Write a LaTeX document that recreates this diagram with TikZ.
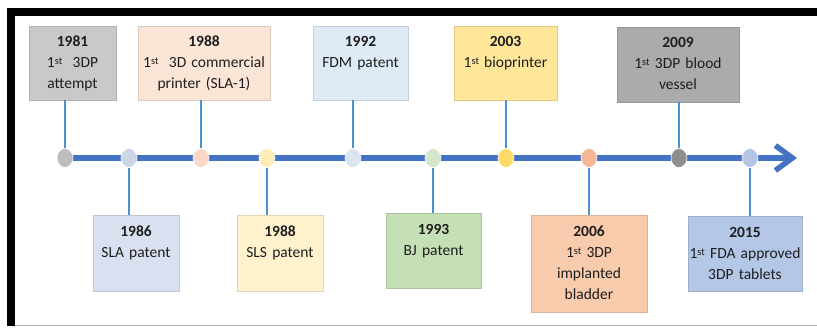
\documentclass[tikz,border=0pt]{standalone}
\usepackage{fontspec}
\setmainfont{Carlito}
\usetikzlibrary{arrows.meta,shapes.geometric}

\definecolor{axisblue}{HTML}{4472C4}
\definecolor{stemblue}{HTML}{4A90CF}
\definecolor{txt}{HTML}{1E1E1E}
\definecolor{cGrayL}{HTML}{C9C9C9}
\definecolor{cGrayD}{HTML}{ABABAB}
\definecolor{cPeach}{HTML}{FBE5D6}
\definecolor{cSky}{HTML}{DEEBF7}
\definecolor{cGold}{HTML}{FFE699}
\definecolor{cSteel}{HTML}{D9E1F1}
\definecolor{cCream}{HTML}{FFF2CC}
\definecolor{cGreen}{HTML}{C5E0B4}
\definecolor{cOrange}{HTML}{F8CBAD}
\definecolor{cBlue}{HTML}{B4C7E7}
% dot colours
\definecolor{dGray}{HTML}{BDBDBD}
\definecolor{dSteel}{HTML}{CDD6E6}
\definecolor{dPeach}{HTML}{F9D8C6}
\definecolor{dCream}{HTML}{FFEDB8}
\definecolor{dSky}{HTML}{DAE4F2}
\definecolor{dGreen}{HTML}{D3E6CC}
\definecolor{dGold}{HTML}{FFD966}
\definecolor{dOrange}{HTML}{F4B896}
\definecolor{dGrayD}{HTML}{8E8E8E}
\definecolor{dBlue}{HTML}{B4C4E4}

% ordinal suffix, set small and raised to cap height
\newcommand{\ordst}{\raisebox{0.42ex}{\fontsize{10.5}{10.5}\selectfont st}}

\begin{document}
\begin{tikzpicture}[x=1pt,y=-1pt,
  eventbox/.style={rectangle, fill=#1, draw=#1!88!black, line width=0.5pt, inner sep=0pt},
  eventtext/.style={anchor=base, align=center, text width=130pt, inner sep=0pt,
    text=txt, font=\fontsize{15.5}{21}\selectfont},
  dot/.style={ellipse, fill=#1, draw=white, line width=0.6pt, inner sep=0pt,
    minimum width=16pt, minimum height=19pt},
  timeline/.style={draw=axisblue, line width=5.5pt,
    -{Straight Barb[length=17pt,width=25pt]}},
  stem/.style={draw=stemblue, line width=2.2pt}]

\useasboundingbox (0,0) rectangle (817,328);

% frame
\fill[black] (7,8) rectangle (817,16);
\fill[black] (7,8) rectangle (15,326);
\draw[gray!60, line width=1pt] (15,326) -- (817,326);

% axis
\coordinate (start) at (65,158);
\coordinate (tip) at (797,158);
\draw[timeline] (start) -- (tip);

% milestones on the axis
\node[dot=dGray]   (c81)  at (65,158)  {};
\node[dot=dSteel]  (c86)  at (129,158) {};
\node[dot=dPeach]  (c88a) at (201,158) {};
\node[dot=dCream]  (c88b) at (267,158) {};
\node[dot=dSky]    (c92)  at (353,158) {};
\node[dot=dGreen]  (c93)  at (433,158) {};
\node[dot=dGold]   (c03)  at (506,158) {};
\node[dot=dOrange] (c06)  at (589,158) {};
\node[dot=dGrayD]  (c09)  at (679,158) {};
\node[dot=dBlue]   (c15)  at (750,158) {};

% boxes above the axis
\node[eventbox=cGrayL, minimum width=87pt, minimum height=74pt]  (b81)  at (72.5,63) {};
\node[eventbox=cPeach, minimum width=132pt, minimum height=74pt] (b88a) at (204,63) {};
\node[eventbox=cSky,   minimum width=95pt, minimum height=74pt]  (b92)  at (360.5,63) {};
\node[eventbox=cGold,  minimum width=103pt, minimum height=74pt] (b03)  at (505.5,63) {};
\node[eventbox=cGrayD, minimum width=122pt, minimum height=75pt] (b09)  at (678,64.5) {};

% boxes below the axis
\node[eventbox=cSteel,  minimum width=86pt, minimum height=76pt]  (b86)  at (136,253) {};
\node[eventbox=cCream,  minimum width=86pt, minimum height=76pt]  (b88b) at (280,253) {};
\node[eventbox=cGreen,  minimum width=95pt, minimum height=75pt]  (b93)  at (433.5,250.5) {};
\node[eventbox=cOrange, minimum width=116pt, minimum height=97pt] (b06)  at (589,263.5) {};
\node[eventbox=cBlue,   minimum width=114pt, minimum height=75pt] (b15)  at (745,253.5) {};

% stems
\draw[stem] (c81.north)  -- (c81.north |- b81.south);
\draw[stem] (c88a.north) -- (c88a.north |- b88a.south);
\draw[stem] (c92.north)  -- (c92.north |- b92.south);
\draw[stem] (c03.north)  -- (c03.north |- b03.south);
\draw[stem] (c09.north)  -- (c09.north |- b09.south);
\draw[stem] (c86.south)  -- (c86.south |- b86.north);
\draw[stem] (c88b.south) -- (c88b.south |- b88b.north);
\draw[stem] (c93.south)  -- (c93.south |- b93.north);
\draw[stem] (c06.south)  -- (c06.south |- b06.north);
\draw[stem] (c15.south)  -- (c15.south |- b15.north);

% labels
\node[eventtext] (t81)  at ([yshift=-21pt]b81.north)  {\textbf{1981}\\1\ordst\ \ 3DP\\attempt};
\node[eventtext] (t88a) at ([yshift=-21pt]b88a.north) {\textbf{1988}\\1\ordst\ \ 3D commercial\\printer (SLA-1)};
\node[eventtext] (t92)  at ([yshift=-21pt]b92.north)  {\textbf{1992}\\FDM patent};
\node[eventtext] (t03)  at ([yshift=-21pt]b03.north)  {\textbf{2003}\\1\ordst\ bioprinter};
\node[eventtext] (t09)  at ([yshift=-21pt]b09.north)  {\textbf{2009}\\1\ordst\ 3DP blood\\vessel};
\node[eventtext] (t86)  at ([yshift=-21.5pt]b86.north)  {\textbf{1986}\\SLA patent};
\node[eventtext] (t88b) at ([yshift=-21.5pt]b88b.north) {\textbf{1988}\\SLS patent};
\node[eventtext] (t93)  at ([yshift=-21.5pt]b93.north)  {\textbf{1993}\\BJ patent};
\node[eventtext] (t06)  at ([yshift=-21.5pt]b06.north)  {\textbf{2006}\\1\ordst\ 3DP\\implanted\\bladder};
\node[eventtext] (t15)  at ([yshift=-21.5pt]b15.north)  {\textbf{2015}\\1\ordst\ FDA approved\\3DP tablets};
\end{tikzpicture}
\end{document}
